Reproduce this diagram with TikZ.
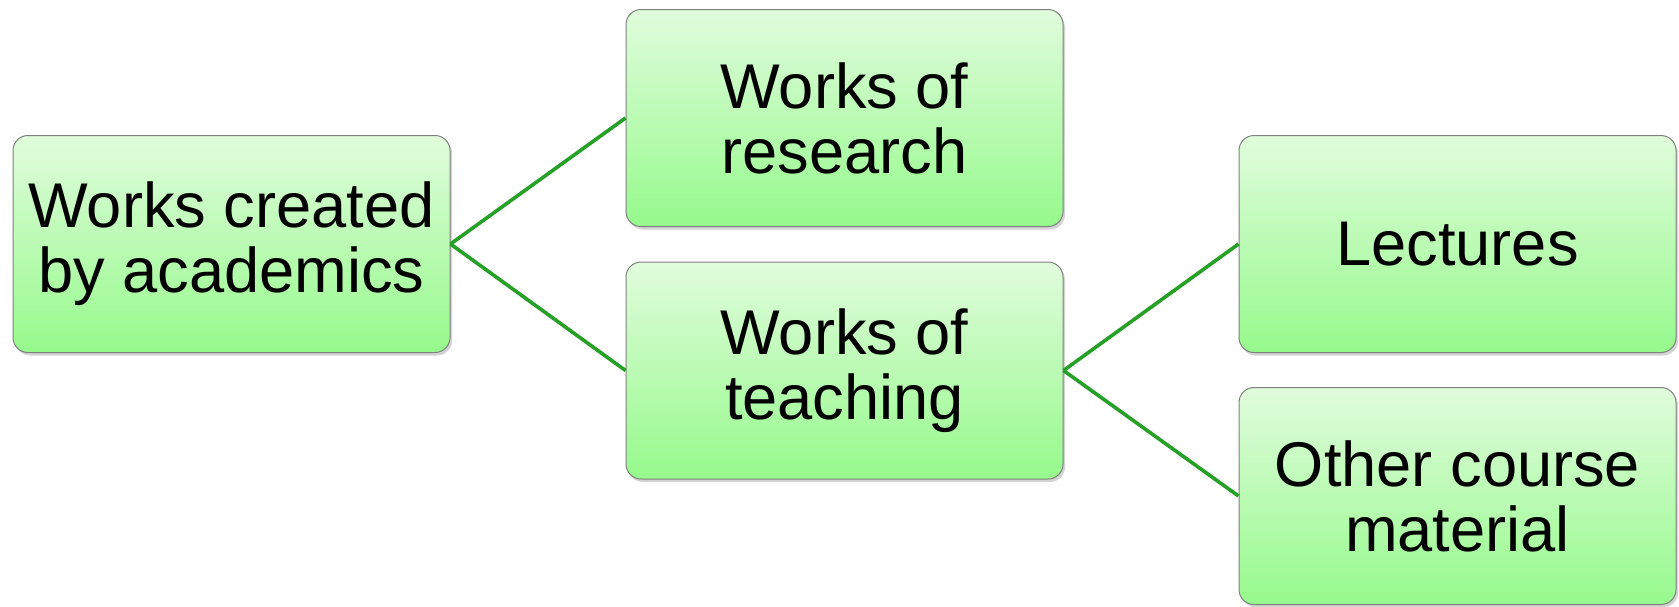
\documentclass[tikz,border=0pt]{standalone}
\usepackage{fontspec}
\setmainfont{Liberation Sans}
\usetikzlibrary{positioning,shadows}
\definecolor{linkgreen}{RGB}{38,160,38}
\definecolor{boxtop}{RGB}{224,252,220}
\definecolor{boxbottom}{RGB}{150,250,140}
\tikzstyle{every link} = []
\tikzstyle{link} = [draw=linkgreen, line width=1.8pt, every link]
\tikzstyle{workbox} = [rectangle, rounded corners=7.5pt, draw=black!50, line width=0.5pt,
    top color=boxtop, bottom color=boxbottom,
    drop shadow={opacity=0.35, shadow xshift=1pt, shadow yshift=-1.5pt},
    minimum width=218.5pt, minimum height=108.5pt, align=center,
    font=\fontsize{31.6pt}{32.5pt}\selectfont]

\begin{document}
\begin{tikzpicture}[node distance=87.5pt]
        \useasboundingbox (0pt,0pt) rectangle (839.5pt,-303pt);

        \node[workbox] (academics) at (115.75pt,-122pt) {Works created\\by academics};
        \node[workbox] (research) [right=of academics, yshift=63pt] {Works of\\research};
        \node[workbox] (teaching) [right=of academics, yshift=-63.25pt] {Works of\\teaching};
        \node[workbox] (lectures) [right=of teaching, yshift=63.25pt] {Lectures};
        \node[workbox] (other) [right=of teaching, yshift=-62.75pt] {Other course\\material};

        \path[link] (academics.east) -- (research.west);
        \path[link] (academics.east) -- (teaching.west);
        \path[link] (teaching.east) -- (lectures.west);
        \path[link] (teaching.east) -- (other.west);
    \end{tikzpicture}
\end{document}
